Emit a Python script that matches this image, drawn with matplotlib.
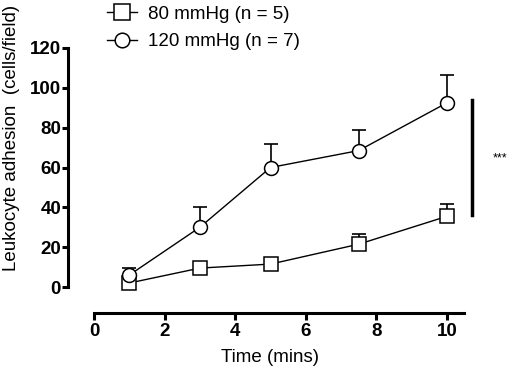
import matplotlib
matplotlib.use("Agg")
import matplotlib.pyplot as plt

plt.rcParams['font.family'] = ['Liberation Sans', 'DejaVu Sans']

time = [1, 3, 5, 7.5, 10]
low_mean = [2, 9.5, 11.5, 21.5, 35.5]
low_err = [0, 0, 0, 5, 6]
high_mean = [6, 30, 60, 68.5, 92.5]
high_err = [3.5, 10, 12, 10.5, 14]
low_label = "80 mmHg (n = 5)"
high_label = "120 mmHg (n = 7)"
xticks = [0, 2, 4, 6, 8, 10]
yticks = [0, 20, 40, 60, 80, 100, 120]

W, H = 510, 377
fig = plt.figure(figsize=(W / 100, H / 100), dpi=100)
left, right, top, bottom = 68, 464, 48, 287
ax = fig.add_axes([left / W, 1 - bottom / H, (right - left) / W, (bottom - top) / H])

x0px, x10px = 94, 447
ppu = (x10px - x0px) / 10
ax.set_xlim((left - x0px) / ppu, (right - x0px) / ppu)
ax.set_ylim(0, 120)

for means, errs, mk, ms, lab in [(low_mean, low_err, 's', 10.5, low_label),
                                 (high_mean, high_err, 'o', 10, high_label)]:
    ax.errorbar(time, means, yerr=[[0] * len(errs), errs], fmt='none',
                ecolor='black', elinewidth=1.2, capsize=5, capthick=1.2,
                clip_on=False, zorder=2)
    ax.plot(time, means, color='black', lw=1.0, marker=mk, ms=ms,
            mfc='white', mec='black', mew=1.1, label=lab, clip_on=False, zorder=3)

for s in ['top', 'right']:
    ax.spines[s].set_visible(False)
ax.spines['left'].set_linewidth(2.2)
ax.spines['bottom'].set_linewidth(2.2)
ax.spines['bottom'].set_position(('outward', 26 * 0.72))
ax.spines['bottom'].set_bounds(0, (right - x0px) / ppu)

ax.set_xticks(xticks)
ax.set_yticks(yticks)
ax.tick_params(axis='both', direction='out', width=2.2, length=4, labelsize=13.5, pad=1)
ax.tick_params(axis='x', length=5, pad=2)
for lbl in ax.get_xticklabels() + ax.get_yticklabels():
    lbl.set_fontweight('bold')

ax.set_xlabel("Time (mins)", fontsize=13.5)
ax.xaxis.set_label_coords((270 - left) / (right - left), -(357 - bottom) / (bottom - top))
ax.xaxis.label.set_va('center')
ax.set_ylabel("Leukocyte adhesion  (cells/field)", fontsize=13.5)
ax.yaxis.set_label_coords(-(left - 12) / (right - left), (bottom - 138) / (bottom - top))
ax.yaxis.label.set_va('center')

# significance bar
ax.plot([10.7, 10.7], [36, 94], color='black', lw=2.5, clip_on=False)
ax.text(11.5, 64.5, "***", fontsize=9, ha='center', va='center', clip_on=False)

leg = ax.legend(loc='upper left', bbox_to_anchor=(105 / W, 1 - 4 / H),
                bbox_transform=fig.transFigure, frameon=False, fontsize=13.5,
                handlelength=1.6, handletextpad=0.6, labelspacing=0.55,
                borderaxespad=0, borderpad=0.1, markerscale=1.05)

fig.savefig("out.png", dpi=100)
